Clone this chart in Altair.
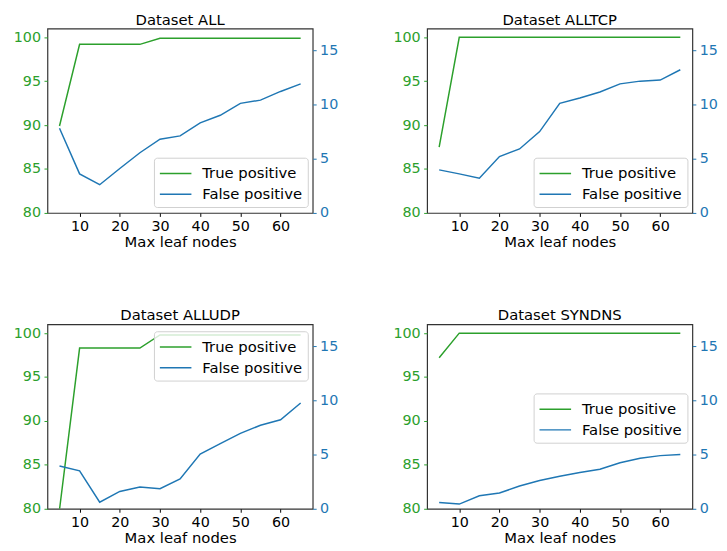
import altair as alt
import pandas as pd

X_NODES = [5, 10, 15, 20, 25, 30, 35, 40, 45, 50, 55, 60, 65]

ALL_TP = [89.9, 99.2, 99.2, 99.2, 99.2, 99.9, 99.9, 99.9, 99.9, 99.9, 99.9, 99.9, 99.9]
ALL_FP = [7.8, 3.6, 2.6, 4.1, 5.55, 6.8, 7.1, 8.3, 9.0, 10.1, 10.4, 11.2, 11.9]

ALLTCP_TP = [87.5, 100.0, 100.0, 100.0, 100.0, 100.0, 100.0, 100.0, 100.0, 100.0, 100.0, 100.0, 100.0]
ALLTCP_FP = [3.97, 3.6, 3.2, 5.2, 5.9, 7.5, 10.1, 10.6, 11.15, 11.9, 12.15, 12.25, 13.2]

ALLUDP_TP = [79.9, 98.3, 98.3, 98.3, 98.3, 99.8, 99.8, 99.8, 99.8, 99.8, 99.8, 99.8, 99.8]
ALLUDP_FP = [3.95, 3.5, 0.6, 1.6, 2.0, 1.85, 2.75, 5.05, 6.0, 6.95, 7.7, 8.2, 9.75]

SYNDNS_TP = [97.2, 100.0, 100.0, 100.0, 100.0, 100.0, 100.0, 100.0, 100.0, 100.0, 100.0, 100.0, 100.0]
SYNDNS_FP = [0.58, 0.43, 1.2, 1.45, 2.1, 2.6, 3.0, 3.35, 3.65, 4.25, 4.65, 4.9, 5.0]

SERIES = ["True positive", "False positive"]
COLORS = ["#2ca02c", "#1f77b4"]
X_TICKS = [10, 20, 30, 40, 50, 60]
TP_TICKS = [80, 85, 90, 95, 100]
FP_TICKS = [0, 5, 10, 15]

FONT = "DejaVu Sans"
W, H = 269, 187


def panel(name, tp, fp, legend_y, left_extent=None):
    df = pd.DataFrame({
        "x": X_NODES + X_NODES,
        "value": tp + fp,
        "series": [SERIES[0]] * len(tp) + [SERIES[1]] * len(fp),
    })
    base = alt.Chart(df)
    color = alt.Color(
        "series:N",
        scale=alt.Scale(domain=SERIES, range=COLORS),
        legend=alt.Legend(
            title=None, orient="none", legendX=108, legendY=legend_y,
            symbolType="M-1.6,0H1.6", symbolSize=400, symbolStrokeWidth=1.5,
            symbolOffset=6,
            labelFont=FONT, labelFontSize=15, labelColor="black", labelOffset=16,
            fillColor="rgba(255,255,255,0.8)", strokeColor="#d0d0d0", cornerRadius=3,
            padding=5, rowPadding=2,
        ),
    )
    xenc = alt.X(
        "x:Q",
        scale=alt.Scale(domain=[2, 68], nice=False, zero=False),
        axis=alt.Axis(values=X_TICKS, title="Max leaf nodes", labelColor="black",
                      tickColor="black", titlePadding=2),
    )
    left_axis_args = dict(orient="left", values=TP_TICKS, title=None,
                          labelColor=COLORS[0], tickColor=COLORS[0])
    if left_extent is not None:
        left_axis_args["minExtent"] = left_extent
    tp_layer = base.transform_filter(alt.datum.series == SERIES[0]).mark_line(
        clip=True, strokeWidth=1.5
    ).encode(
        x=xenc,
        y=alt.Y("value:Q", scale=alt.Scale(domain=[80, 101], nice=False, zero=False),
                axis=alt.Axis(**left_axis_args)),
        color=color,
    )
    fp_layer = base.transform_filter(alt.datum.series == SERIES[1]).mark_line(
        clip=True, strokeWidth=1.5
    ).encode(
        x=xenc,
        y=alt.Y("value:Q", scale=alt.Scale(domain=[0, 17], nice=False, zero=False),
                axis=alt.Axis(orient="right", values=FP_TICKS, title=None,
                              labelColor=COLORS[1], tickColor=COLORS[1])),
        color=color,
    )
    return alt.layer(tp_layer, fp_layer).resolve_scale(y="independent").properties(
        width=W, height=H, title=alt.Title(name)
    )


p1 = panel("Dataset ALL", ALL_TP, ALL_FP, 131)
p2 = panel("Dataset ALLTCP", ALLTCP_TP, ALLTCP_FP, 131)
p3 = panel("Dataset ALLUDP", ALLUDP_TP, ALLUDP_FP, 7, left_extent=39)
p4 = panel("Dataset SYNDNS", SYNDNS_TP, SYNDNS_FP, 70)

top = alt.hconcat(p1, p2, spacing=53).resolve_scale(color="independent")
bottom = alt.hconcat(p3, p4, spacing=53).resolve_scale(color="independent")

chart = alt.vconcat(top, bottom, spacing=57).resolve_scale(color="independent").properties(
    padding={"left": 0, "top": 0, "right": 0, "bottom": 0}
).configure_view(
    stroke="#333333", strokeWidth=1.2
).configure_axis(
    domain=False, grid=False, labelFont=FONT, labelFontSize=14.5, tickSize=3.5,
    tickWidth=1, labelPadding=3.5, titleFont=FONT, titleFontSize=15,
    titleFontWeight="normal", titleColor="black",
).configure_title(
    font=FONT, fontSize=15, fontWeight="normal", offset=1, color="black",
    baseline="bottom"
)

chart.save("out.html", embed_options={"renderer": "svg", "actions": False})
